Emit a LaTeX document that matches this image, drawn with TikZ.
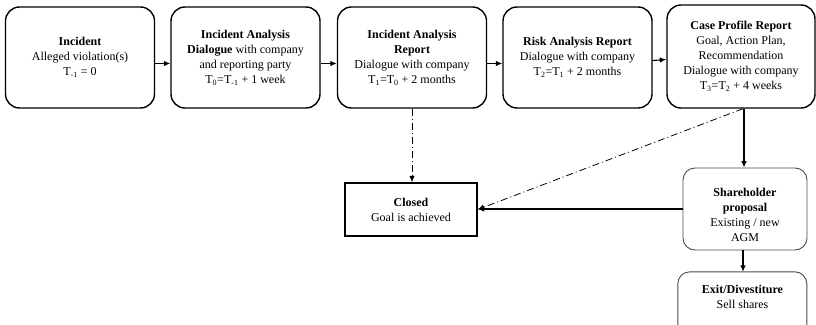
\documentclass[tikz,border=0pt]{standalone}
\usepackage{fontspec}
\setmainfont{Liberation Serif}
\usetikzlibrary{arrows.meta}
\begin{document}
\begin{tikzpicture}[x=1pt,y=-1pt,
  font=\fontsize{12}{15}\selectfont,
  stage/.style={draw=black, line width=1.4pt, rounded corners=14pt, align=center,
    minimum width=149pt, minimum height=101pt, inner sep=2pt},
  closedbox/.style={draw=black, line width=1.4pt, align=center,
    minimum width=132pt, minimum height=53pt},
  softbox/.style={draw=black!70, line width=0.9pt, rounded corners=12pt, align=center,
    minimum width=124pt, minimum height=82pt},
  flow/.style={line width=1.1pt, -{Latex[length=6.5pt,width=5.5pt]}},
  optflow/.style={line width=0.8pt, dash pattern=on 7pt off 3pt on 1pt off 3pt,
    -{Latex[length=6.5pt,width=5.5pt]}}]
\useasboundingbox (0,0) rectangle (816,324);

% main stages
\node[stage] (inc) at (80,57.5) {\textbf{Incident}\\Alleged violation(s)\\T\textsubscript{-1} = 0};
\node[stage] (iad) at (245.5,57.5) {\textbf{Incident Analysis}\\\textbf{Dialogue} with company\\and reporting party\\T\textsubscript{0}=T\textsubscript{-1} + 1 week};
\node[stage] (iar) at (412,57.5) {\textbf{Incident Analysis}\\\textbf{Report}\\Dialogue with company\\T\textsubscript{1}=T\textsubscript{0} + 2 months};
\node[stage] (rar) at (577.5,57.5) {\textbf{Risk Analysis Report}\\Dialogue with company\\T\textsubscript{2}=T\textsubscript{1} + 2 months};
\node[stage, minimum width=148pt, minimum height=103pt] (cpr) at (741,56.5) {\textbf{Case Profile Report}\\Goal, Action Plan,\\Recommendation\\Dialogue with company\\T\textsubscript{3}=T\textsubscript{2} + 4 weeks};

% outcomes
\node[closedbox] (cls) at (411,209.5) {\textbf{Closed}\\Goal is achieved};
\node[softbox] (shp) at (745,209) {\rule{0pt}{20pt}\textbf{Shareholder}\\\textbf{proposal}\\Existing / new\\AGM};
\node[align=center, minimum width=129pt, minimum height=50pt, inner sep=0pt] (exd) at (742.5,297) {\textbf{Exit/Divestiture}\\Sell shares};
\draw[draw=black!70, line width=0.9pt, rounded corners=12pt] (exd.north west) rectangle ++(129,75);

% sequence of stages
\draw[flow] ([yshift=-6pt]inc.east) -- ([yshift=-6pt]iad.west);
\draw[flow] ([yshift=-6pt]iad.east) -- ([yshift=-6pt]iar.west);
\draw[flow] ([yshift=-6pt]iar.east) -- ([yshift=-6pt]rar.west);
\draw[flow] ([yshift=-3pt]rar.east) -- ([yshift=-3pt]cpr.west);

% escalation and closure
\draw[optflow] (iar.south) -- (iar.south |- cls.north);
\draw[optflow] ([xshift=2pt]cpr.south) -- (cls.east);
\draw[flow] ([xshift=3pt]cpr.south) -- ([xshift=3pt]cpr.south |- shp.north);
\draw[flow] (shp.west) -- (shp.west -| cls.east);
\draw[flow] ([xshift=-2pt]shp.south) -- ([xshift=-2pt]shp.south |- exd.north);
\end{tikzpicture}
\end{document}
